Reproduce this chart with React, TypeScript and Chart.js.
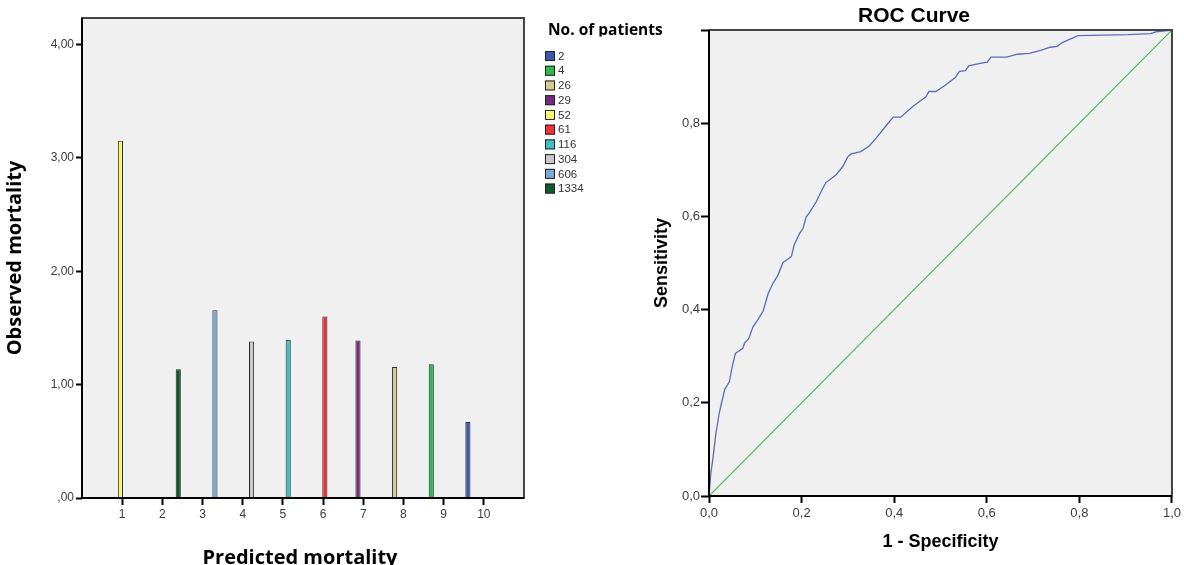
import React, { useEffect, useRef } from 'react';
import { Chart, registerables } from 'chart.js';

Chart.register(...registerables);

// ---------- Left chart data ----------
const categories = ['1', '2', '3', '4', '5', '6', '7', '8', '9', '10'];
const observedMortality = [3.15, 1.135, 1.655, 1.38, 1.395, 1.6, 1.39, 1.155, 1.18, 0.67];
const groupOfCategory = ['52', '1334', '606', '304', '116', '61', '29', '26', '4', '2'];
const patientGroups = ['2', '4', '26', '29', '52', '61', '116', '304', '606', '1334'];
const groupColors = ['#3d58a8', '#2fb84a', '#d3cd95', '#7a2a7e', '#fbf46e', '#ee3338', '#41bfc2', '#c9c9c9', '#79a7d6', '#12582d'];
const yTickValues = [0, 1, 2, 3, 4];
const yTickLabels = [',00', '1,00', '2,00', '3,00', '4,00'];

// ---------- ROC data ----------
const rocFpr = [0, 0.004, 0.008, 0.015, 0.022, 0.027, 0.034, 0.044, 0.05, 0.057, 0.073, 0.077, 0.086, 0.095, 0.106, 0.117, 0.128, 0.138, 0.149, 0.16, 0.167, 0.178, 0.184, 0.196, 0.203, 0.21, 0.217, 0.232, 0.242, 0.252, 0.274, 0.289, 0.3, 0.307, 0.328, 0.346, 0.361, 0.382, 0.398, 0.414, 0.439, 0.454, 0.469, 0.475, 0.49, 0.511, 0.532, 0.541, 0.554, 0.561, 0.583, 0.601, 0.609, 0.643, 0.666, 0.692, 0.718, 0.737, 0.752, 0.763, 0.797, 0.905, 0.954, 0.965, 1.0];
const rocTpr = [0, 0.049, 0.077, 0.135, 0.177, 0.199, 0.229, 0.245, 0.277, 0.306, 0.317, 0.328, 0.338, 0.363, 0.379, 0.397, 0.435, 0.456, 0.474, 0.501, 0.506, 0.514, 0.539, 0.564, 0.574, 0.599, 0.608, 0.632, 0.653, 0.672, 0.689, 0.707, 0.728, 0.734, 0.739, 0.751, 0.768, 0.794, 0.813, 0.813, 0.835, 0.846, 0.857, 0.868, 0.868, 0.882, 0.898, 0.911, 0.913, 0.923, 0.928, 0.931, 0.942, 0.942, 0.948, 0.95, 0.957, 0.963, 0.965, 0.973, 0.988, 0.99, 0.992, 0.996, 1.0];
const referenceLine = [0, 1];
const rocTickValues = [0, 0.2, 0.4, 0.6, 0.8, 1];
const rocXTickLabels = ['0,0', '0,2', '0,4', '0,6', '0,8', '1,0'];
const rocYTickLabels = ['0,0', '0,2', '0,4', '0,6', '0,8', ''];

const TICK_COLOR = '#3c3c3c';
const TITLE_FONT = '"Open Sans", "Liberation Sans", sans-serif';
const ARIAL = '"Liberation Sans", Arial, sans-serif';

const framePlugin = {
  id: 'frame',
  beforeDraw(chart: any) {
    const { ctx, chartArea: a } = chart;
    ctx.save();
    ctx.fillStyle = '#f0f0f0';
    ctx.fillRect(a.left, a.top, a.right - a.left, a.bottom - a.top);
    ctx.restore();
  },
  afterDatasetsDraw(chart: any) {
    const { ctx, chartArea: a } = chart;
    ctx.save();
    ctx.lineWidth = 2;
    ctx.strokeStyle = '#444';
    ctx.strokeRect(a.left, a.top, a.right - a.left, a.bottom - a.top);
    ctx.strokeStyle = '#000';
    ctx.beginPath();
    ctx.moveTo(a.left, a.top);
    ctx.lineTo(a.left, a.bottom);
    ctx.lineTo(a.right, a.bottom);
    ctx.stroke();
    ctx.restore();
  },
};

const leftTextPlugin = {
  id: 'leftText',
  afterDraw(chart: any) {
    const { ctx, chartArea: a } = chart;
    ctx.save();
    ctx.fillStyle = '#000';
    ctx.font = `bold 20px ${TITLE_FONT}`;
    ctx.textAlign = 'center';
    ctx.textBaseline = 'alphabetic';
    ctx.fillText('Predicted mortality', 300, 564);
    ctx.save();
    ctx.translate(21, (a.top + a.bottom) / 2);
    ctx.rotate(-Math.PI / 2);
    ctx.fillText('Observed mortality', 0, 0);
    ctx.restore();

    // legend
    ctx.save();
    ctx.beginPath();
    ctx.rect(530, 0, 200, 36.5);
    ctx.clip();
    ctx.textAlign = 'left';
    ctx.font = `bold 15.5px ${TITLE_FONT}`;
    ctx.fillText('No. of patients', 548, 34.5);
    ctx.restore();

    ctx.font = `11.5px ${ARIAL}`;
    ctx.textAlign = 'left';
    ctx.textBaseline = 'middle';
    chart.data.datasets.forEach((ds: any, i: number) => {
      const y = 51 + i * 14.73;
      ctx.fillStyle = ds.backgroundColor;
      ctx.fillRect(545, y, 10, 10);
      ctx.strokeStyle = '#222';
      ctx.lineWidth = 1;
      ctx.strokeRect(545.5, y + 0.5, 9, 9);
      ctx.fillStyle = '#333';
      ctx.fillText(ds.label, 558, y + 5.5);
    });
    ctx.restore();
  },
};

const rocTextPlugin = {
  id: 'rocText',
  afterDraw(chart: any) {
    const { ctx, chartArea: a } = chart;
    ctx.save();
    ctx.fillStyle = '#000';
    ctx.textAlign = 'center';
    ctx.textBaseline = 'alphabetic';
    ctx.font = `bold 21px ${ARIAL}`;
    ctx.fillText('ROC Curve', 274, 22);
    ctx.font = `bold 18px ${ARIAL}`;
    ctx.fillText('1 - Specificity', (a.left + a.right) / 2, 547);
    ctx.translate(27, (a.top + a.bottom) / 2);
    ctx.rotate(-Math.PI / 2);
    ctx.fillText('Sensitivity', 0, 0);
    ctx.restore();
  },
};

function BarChart() {
  const ref = useRef<HTMLCanvasElement>(null);
  useEffect(() => {
    if (!ref.current) return;
    const datasets = patientGroups.map((g, gi) => ({
      label: g,
      data: categories
        .map((c, i) => (groupOfCategory[i] === g ? { x: i + 1, y: observedMortality[i] } : null))
        .filter((p) => p !== null),
      backgroundColor: groupColors[gi],
      borderColor: '#2a2a2a',
      borderWidth: 1,
      categoryPercentage: 0.88,
      barPercentage: 1.45,
    }));
    const chart = new Chart(ref.current, {
      type: 'bar',
      data: { datasets } as any,
      options: {
        responsive: false,
        animation: false,
        devicePixelRatio: 1,
        layout: { padding: { left: 0, top: 18, right: 176, bottom: 0 } },
        plugins: { legend: { display: false }, tooltip: { enabled: false } },
        scales: {
          x: {
            type: 'linear',
            min: 0,
            max: 11,
            offset: false,
            afterBuildTicks: (s: any) => {
              s.ticks = categories.map((_, i) => ({ value: i + 1 }));
            },
            afterFit: (s: any) => {
              s.height = 67;
            },
            grid: { offset: false, drawOnChartArea: false, drawTicks: true, tickLength: 7, tickWidth: 2, tickColor: '#000' },
            border: { display: false },
            ticks: {
              autoSkip: false,
              maxRotation: 0,
              padding: 2,
              color: TICK_COLOR,
              font: { family: ARIAL, size: 12 },
              callback: (_v: any, i: number) => categories[i],
            },
          },
          y: {
            type: 'linear',
            min: 0,
            max: 4.233,
            afterBuildTicks: (s: any) => {
              s.ticks = yTickValues.map((v) => ({ value: v }));
            },
            afterFit: (s: any) => {
              s.width = 82;
            },
            grid: { drawOnChartArea: false, drawTicks: true, tickLength: 6, tickWidth: 2, tickColor: '#000' },
            border: { display: false },
            ticks: {
              padding: 2,
              color: TICK_COLOR,
              font: { family: ARIAL, size: 12 },
              callback: (_v: any, i: number) => yTickLabels[i],
            },
          },
        },
      } as any,
      plugins: [framePlugin, leftTextPlugin],
    });
    return () => chart.destroy();
  }, []);
  return <canvas ref={ref} width={700} height={565} style={{ position: 'absolute', left: 0, top: 0 }} />;
}

function RocChart() {
  const ref = useRef<HTMLCanvasElement>(null);
  useEffect(() => {
    if (!ref.current) return;
    const chart = new Chart(ref.current, {
      type: 'line',
      data: {
        datasets: [
          {
            label: 'ROC',
            data: rocFpr.map((x, i) => ({ x, y: rocTpr[i] })),
            borderColor: '#5a6bb8',
            borderWidth: 1.3,
            pointRadius: 0,
            tension: 0,
          },
          {
            label: 'Reference',
            data: referenceLine.map((v) => ({ x: v, y: v })),
            borderColor: '#4cbb55',
            borderWidth: 1.2,
            pointRadius: 0,
            tension: 0,
          },
        ],
      } as any,
      options: {
        responsive: false,
        animation: false,
        devicePixelRatio: 1,
        layout: { padding: { left: 0, top: 30, right: 10, bottom: 0 } },
        plugins: { legend: { display: false }, tooltip: { enabled: false } },
        scales: {
          x: {
            type: 'linear',
            min: 0,
            max: 1,
            afterBuildTicks: (s: any) => {
              s.ticks = rocTickValues.map((v) => ({ value: v }));
            },
            afterFit: (s: any) => {
              s.height = 69;
            },
            grid: { drawOnChartArea: false, drawTicks: true, tickLength: 7, tickWidth: 2, tickColor: '#000' },
            border: { display: false },
            ticks: {
              autoSkip: false,
              maxRotation: 0,
              padding: 3,
              color: TICK_COLOR,
              font: { family: ARIAL, size: 13 },
              callback: (_v: any, i: number) => rocXTickLabels[i],
            },
          },
          y: {
            type: 'linear',
            min: 0,
            max: 1,
            afterBuildTicks: (s: any) => {
              s.ticks = rocTickValues.map((v) => ({ value: v }));
            },
            afterFit: (s: any) => {
              s.width = 69;
            },
            grid: { drawOnChartArea: false, drawTicks: true, tickLength: 8, tickWidth: 2, tickColor: '#000' },
            border: { display: false },
            ticks: {
              padding: 1,
              color: TICK_COLOR,
              font: { family: ARIAL, size: 13 },
              callback: (_v: any, i: number) => rocYTickLabels[i],
            },
          },
        },
      } as any,
      plugins: [framePlugin, rocTextPlugin],
    });
    return () => chart.destroy();
  }, []);
  return <canvas ref={ref} width={544} height={565} style={{ position: 'absolute', left: 640, top: 0 }} />;
}

export default function App() {
  return (
    <div style={{ position: 'absolute', left: 0, top: 0, width: 1184, height: 565, overflow: 'hidden', background: '#fff' }}>
      <BarChart />
      <RocChart />
    </div>
  );
}
